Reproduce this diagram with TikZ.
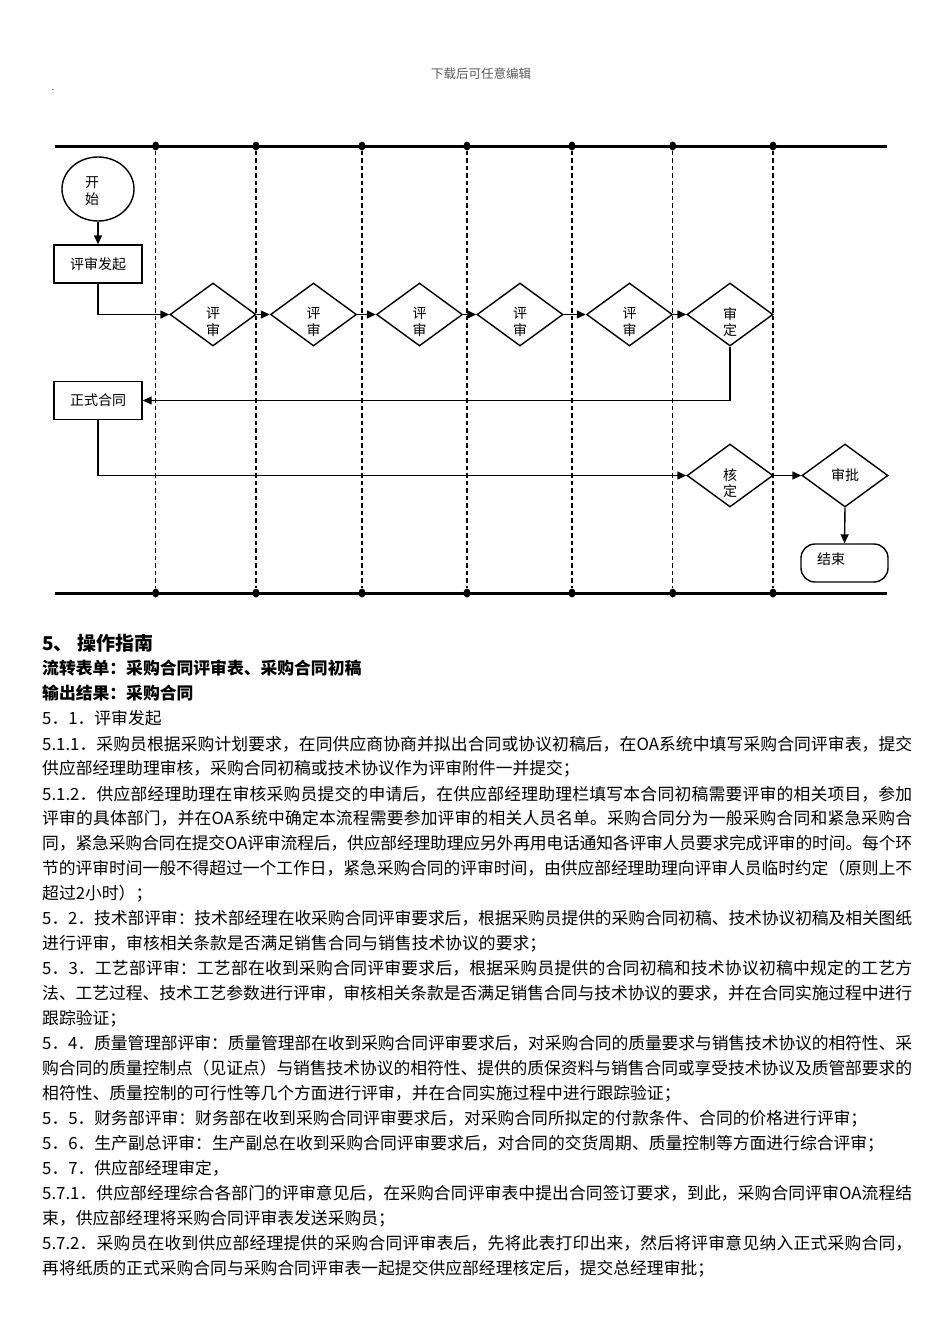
\documentclass[tikz,border=0pt]{standalone}
\usepackage{fontspec}
\setmainfont{Noto Sans CJK SC}
\usetikzlibrary{arrows.meta,shapes.geometric}
\XeTeXlinebreaklocale "zh"
\XeTeXlinebreakskip=0pt plus 3pt minus 0.5pt
\XeTeXlinebreakpenalty=10000
\newcommand\bodyfont{\fontsize{16.8}{20}\selectfont}
\newcommand\JL[3]{\node[jl] (#1) at (42,#2) {\parindent=0pt\parfillskip=0pt\relax\emergencystretch=20pt\tolerance=10000\relax #3\par};}
\newcommand\PL[3]{\node[pl] (#1) at (42,#2) {#3};}
\tikzset{
  lane/.style={line width=3pt},
  lanesep/.style={line width=1.1pt, dash pattern=on 4.5pt off 3pt},
  dotn/.style={ellipse, fill, inner sep=0, minimum width=7pt, minimum height=9pt},
  conn/.style={line width=1.4pt, -{Triangle[length=9pt,width=8pt]}},
  boxn/.style={draw, line width=1.4pt, minimum width=88pt, minimum height=38pt, inner sep=0, font=\fontsize{14}{16}\selectfont},
  dia/.style={diamond, draw, line width=1.4pt, minimum width=86pt, minimum height=63pt, inner sep=0},
  lbl/.style={font=\fontsize{14}{16.5}\selectfont, inner sep=0, align=center},
  jl/.style={anchor=base west, inner sep=0, text width=870pt, align=justify, font=\bodyfont},
  pl/.style={anchor=base west, inner sep=0, font=\bodyfont},
}
\begin{document}
\begin{tikzpicture}[x=1pt,y=-1pt]
\fill[white] (0,0) rectangle (950,1344);
\useasboundingbox (0,0) rectangle (950,1344);
% header
\node[font=\fontsize{12.5}{14}\selectfont, text=black!65, inner sep=0] (hdr) at (481,74) {下载后可任意编辑};
\node[font=\fontsize{8}{8}\selectfont, inner sep=0] (hdot) at (53,90) {.};
% swimlane frame
\coordinate (tl) at (55,146);
\coordinate (tr) at (887,146);
\coordinate (bl) at (55,593);
\coordinate (br) at (887,593);
\draw[lane] (tl) -- (tr);
\draw[lane] (bl) -- (br);
\foreach \i/\x in {1/155.7,2/256,3/362,4/467,5/572,6/672.7,7/773}{
  \node[dotn] (t\i) at (\x,146) {};
  \node[dotn] (b\i) at (\x,593) {};
  \draw[lanesep] (t\i) -- (b\i);
}
% flow
\node[ellipse, draw, line width=1.4pt, minimum width=72pt, minimum height=64pt, inner sep=0] (start) at (98,189) {};
\node[lbl] (startt) at (92,191) {开\\始};
\node[boxn] (faqi) at (98,264) {评审发起};
\draw[conn] (start) -- (faqi);
\foreach \i/\x in {1/213,2/313.5,3/419.5,4/520,5/629.5,6/730}{
  \node[dia] (p\i) at (\x,314.5) {};
}
\foreach \i/\x in {1/213,2/313.5,3/419.5,4/520,5/629.5}{
  \node[lbl] (p\i t) at (\x,322) {评\\审};
}
\node[lbl] (p6t) at (730,322) {审\\定};
\draw[conn] (faqi.south) |- (p1.west);
\draw[conn] (p1.east) -- (p2.west);
\draw[conn] (p2.east) -- (p3.west);
\draw[conn] (p3.east) -- (p4.west);
\draw[conn] (p4.east) -- (p5.west);
\draw[conn] (p5.east) -- (p6.west);
\node[boxn] (zs) at (98,400.5) {正式合同};
\draw[conn] (p6.south) |- (zs.east);
\node[dia] (hd) at (730,475.5) {};
\node[lbl] (hdt) at (730,483) {核\\定};
\draw[conn] (zs.south) |- (hd.west);
\node[dia] (sp) at (845,475.5) {};
\node[lbl] (spt) at (845,475) {审批};
\draw[conn] (hd.east) -- (sp.west);
\node[draw, line width=1.4pt, rounded corners=14pt, minimum width=87pt, minimum height=38pt, inner sep=0] (end) at (844.5,563) {};
\node[lbl] (endt) at (831,559) {结束};
\draw[conn] (sp.south) -- (end.north);
% text
\node[pl, font=\fontsize{19}{22}\selectfont\bfseries] (h0) at (42,650) {5、 操作指南};
\node[pl, font=\bodyfont\bfseries] (h1) at (42,674) {流转表单：采购合同评审表、采购合同初稿};
\node[pl, font=\bodyfont\bfseries] (h2) at (42,699) {输出结果：采购合同};
\PL{l1}{724}{5．1．评审发起}
\JL{l2}{750}{5.1.1．采购员根据采购计划要求，在同供应商协商并拟出合同或协议初稿后，在OA系统中填写采购合同评审表，提交}
\PL{l3}{774}{供应部经理助理审核，采购合同初稿或技术协议作为评审附件一并提交；}
\JL{l4}{800}{5.1.2．供应部经理助理在审核采购员提交的申请后，在供应部经理助理栏填写本合同初稿需要评审的相关项目，参加}
\JL{l5}{824}{评审的具体部门，并在OA系统中确定本流程需要参加评审的相关人员名单。采购合同分为一般采购合同和紧急采购合}
\JL{l6}{849}{同，紧急采购合同在提交OA评审流程后，供应部经理助理应另外再用电话通知各评审人员要求完成评审的时间。每个环}
\JL{l7}{874}{节的评审时间一般不得超过一个工作日，紧急采购合同的评审时间，由供应部经理助理向评审人员临时约定（原则上不}
\PL{l8}{899}{超过2小时）；}
\JL{l9}{924}{5．2．技术部评审：技术部经理在收采购合同评审要求后，根据采购员提供的采购合同初稿、技术协议初稿及相关图纸}
\PL{l10}{949}{进行评审，审核相关条款是否满足销售合同与销售技术协议的要求；}
\JL{l11}{974}{5．3．工艺部评审：工艺部在收到采购合同评审要求后，根据采购员提供的合同初稿和技术协议初稿中规定的工艺方}
\JL{l12}{999}{法、工艺过程、技术工艺参数进行评审，审核相关条款是否满足销售合同与技术协议的要求，并在合同实施过程中进行}
\PL{l13}{1024}{跟踪验证；}
\JL{l14}{1049}{5．4．质量管理部评审：质量管理部在收到采购合同评审要求后，对采购合同的质量要求与销售技术协议的相符性、采}
\JL{l15}{1074}{购合同的质量控制点（见证点）与销售技术协议的相符性、提供的质保资料与销售合同或享受技术协议及质管部要求的}
\PL{l16}{1099}{相符性、质量控制的可行性等几个方面进行评审，并在合同实施过程中进行跟踪验证；}
\PL{l17}{1124}{5．5．财务部评审：财务部在收到采购合同评审要求后，对采购合同所拟定的付款条件、合同的价格进行评审；}
\PL{l18}{1149}{5．6．生产副总评审：生产副总在收到采购合同评审要求后，对合同的交货周期、质量控制等方面进行综合评审；}
\PL{l19}{1174}{5．7．供应部经理审定，}
\JL{l20}{1199}{5.7.1．供应部经理综合各部门的评审意见后，在采购合同评审表中提出合同签订要求，到此，采购合同评审OA流程结}
\PL{l21}{1224}{束，供应部经理将采购合同评审表发送采购员；}
\JL{l22}{1249}{5.7.2．采购员在收到供应部经理提供的采购合同评审表后，先将此表打印出来，然后将评审意见纳入正式采购合同，}
\PL{l23}{1274}{再将纸质的正式采购合同与采购合同评审表一起提交供应部经理核定后，提交总经理审批；}
\end{tikzpicture}
\end{document}
